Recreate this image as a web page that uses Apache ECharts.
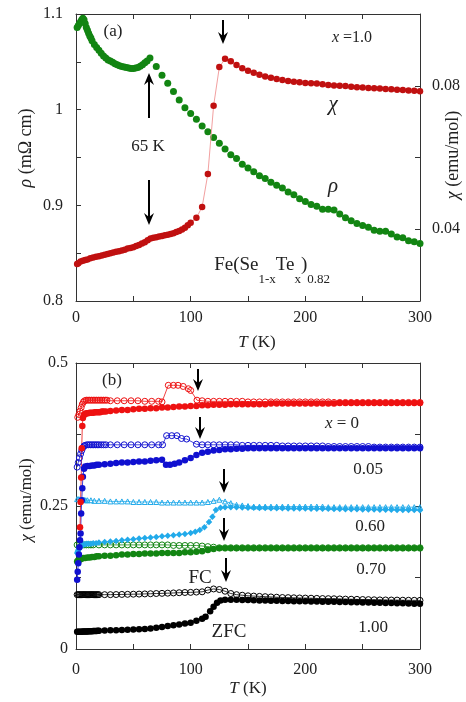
<!DOCTYPE html>
<html>
<head>
<meta charset="UTF-8">
<title>Fe(Se1-xTex)0.82</title>
<script src="https://cdn.jsdelivr.net/npm/echarts/dist/echarts.min.js"></script>
<style>
  html, body { margin: 0; padding: 0; width: 100%; height: 100%; background: #fff; }
  #chart { width: 466px; height: 702px; }
</style>
</head>
<body>
<div id="chart"></div>
<script>
  // ---- panel (a): x = 1.0, resistivity (left axis) and susceptibility (right axis) ----
  const rhoData = [
    [1,1.086],[2,1.088],[3,1.090],[4,1.092],[5,1.094],[6,1.0955],[7,1.094],[8,1.090],[9,1.086],[10,1.083],
    [11,1.080],[12,1.077],[13,1.075],[14,1.072],[16,1.068],[18,1.065],[20,1.062],[22,1.059],[24,1.056],[26,1.054],
    [28,1.052],[30,1.051],[32,1.0495],[34,1.048],[36,1.047],[38,1.046],[40,1.045],[42,1.0445],[44,1.044],[46,1.0435],
    [48,1.043],[50,1.043],[52,1.0435],[54,1.044],[56,1.0455],[58,1.047],[60,1.049],[62,1.051],[64.5,1.054],[70,1.045],
    [75,1.036],[80,1.0275],[85,1.019],[90,1.010],[95,1.002],[100,0.996],[105,0.990],[110,0.983],[115,0.977],[120,0.971],
    [125,0.965],[130,0.959],[135,0.953],[140,0.949],[145,0.943],[150,0.939],[155,0.935],[160,0.931],[165,0.928],[170,0.924],
    [175,0.921],[180,0.918],[185,0.914],[190,0.911],[195,0.907],[200,0.904],[205,0.901],[210,0.899],[215,0.896],[220,0.896],
    [225,0.895],[230,0.891],[235,0.887],[240,0.884],[245,0.881],[250,0.879],[255,0.877],[260,0.874],[265,0.873],[270,0.873],
    [275,0.870],[280,0.867],[285,0.866],[290,0.863],[295,0.862],[300,0.860]
  ];
  const chiTopData = [
    [1,0.0303],[2,0.0305],[4,0.0310],[6,0.0312],[8,0.0314],[10,0.0316],[12.5,0.0319],[15,0.0321],[17.5,0.0323],[20,0.0325],
    [22.5,0.0327],[25,0.0329],[27.5,0.0331],[30,0.0333],[32.5,0.0335],[35,0.0337],[37.5,0.0339],[40,0.0341],[42.5,0.0343],[45,0.0346],
    [47.5,0.0348],[50,0.0350],[52.5,0.0353],[55,0.0356],[57.5,0.0360],[60,0.0364],[62.5,0.0369],[65,0.0374],[67.5,0.0376],[70,0.0378],
    [72.5,0.0380],[75,0.0381],[77.5,0.0383],[80,0.0385],[82.5,0.0387],[85,0.0389],[87.5,0.0392],[90,0.0395],[92.5,0.0399],[95,0.0404],
    [97.5,0.0411],[100,0.0418],[105,0.0432],[110,0.0462],[115,0.0554],[120,0.0744],[125,0.0852],[130,0.0875],[135,0.0868],[140,0.0858],
    [145,0.0849],[150,0.0842],[155,0.0836],[160,0.0831],[165,0.0826],[170,0.0822],[175,0.0819],[180,0.0816],[185,0.0813],[190,0.0811],
    [195,0.0810],[200,0.0808],[205,0.0807],[210,0.0806],[215,0.0804],[220,0.0802],[225,0.0801],[230,0.0800],[235,0.0799],[240,0.0797],
    [245,0.0796],[250,0.0795],[255,0.0794],[260,0.0793],[265,0.0792],[270,0.0791],[275,0.0790],[280,0.0789],[285,0.0788],[290,0.0787],
    [295,0.0786],[300,0.0785]
  ];

  // ---- panel (b): chi(T), FC (open) and ZFC (filled) ----
  const fcX0 = [
    [1.5,0.405],[2.5,0.410],[3.5,0.416],[4.5,0.422],[5.5,0.428],[6.5,0.432],[7.5,0.434],[9,0.435],[10.5,0.435],[12,0.435],
    [13.5,0.435],[15,0.435],[16.5,0.435],[18,0.435],[19.5,0.435],[21,0.435],[22.5,0.435],[24,0.435],[25.5,0.435],[27,0.435],
    [30,0.434],[36,0.434],[42,0.434],[48,0.434],[54,0.434],[60,0.433],[66,0.433],[72,0.433],[75,0.432],[80.5,0.461],
    [85,0.461],[89,0.461],[93.5,0.459],[98,0.455],[100,0.452],[105.5,0.435],[110,0.434],[115,0.433],[120,0.433],[125,0.433],
    [130,0.433],[135,0.433],[140,0.433],[145,0.433],[150,0.432],[155,0.432],[160,0.432],[165,0.432],[170,0.432],[175,0.432],
    [180,0.432],[185,0.432],[190,0.432],[195,0.432],[200,0.432],[205,0.432],[210,0.432],[215,0.432],[220,0.432],[225,0.431],
    [230,0.431],[235,0.431],[240,0.431],[245,0.431],[250,0.431],[255,0.431],[260,0.431],[265,0.431],[270,0.431],[275,0.431],
    [280,0.431],[285,0.431],[290,0.431],[295,0.431],[300,0.431]
  ];
  const zfcX0 = [
    [3.5,0.213],[4,0.257],[4.5,0.300],[5,0.351],[5.5,0.390],[6,0.404],[7,0.409],[8,0.411],[9,0.412],[10.5,0.412],
    [12,0.413],[13.5,0.413],[15,0.413],[16.5,0.414],[18,0.414],[19.5,0.414],[21,0.414],[22.5,0.415],[24,0.415],[26,0.415],
    [30,0.416],[35,0.417],[40,0.418],[45,0.418],[50,0.419],[55,0.420],[60,0.420],[65,0.421],[70,0.421],[75,0.422],
    [80,0.422],[85,0.423],[90,0.424],[95,0.424],[100,0.425],[105,0.425],[110,0.426],[115,0.426],[120,0.427],[125,0.427],
    [130,0.427],[135,0.428],[140,0.428],[145,0.428],[150,0.428],[155,0.428],[160,0.428],[165,0.428],[170,0.429],[175,0.429],
    [180,0.429],[185,0.429],[190,0.429],[195,0.429],[200,0.429],[205,0.429],[210,0.429],[215,0.429],[220,0.429],[225,0.429],
    [230,0.430],[235,0.430],[240,0.430],[245,0.430],[250,0.430],[255,0.430],[260,0.430],[265,0.430],[270,0.430],[275,0.430],
    [280,0.430],[285,0.430],[290,0.430],[295,0.430],[300,0.430]
  ];
  const fcX005 = [
    [1,0.318],[2,0.326],[3,0.334],[4,0.341],[5,0.347],[6,0.352],[7,0.355],[8,0.356],[9.5,0.357],[11,0.357],
    [12.5,0.357],[14,0.357],[15.5,0.357],[17,0.357],[18.5,0.357],[20,0.357],[22,0.357],[24,0.357],[26,0.357],[30,0.357],
    [36,0.357],[42,0.357],[48,0.357],[54,0.357],[60,0.357],[66,0.357],[72,0.357],[75.5,0.357],[79,0.373],[83.5,0.373],
    [88,0.373],[92,0.368],[96.5,0.367],[105,0.358],[110,0.357],[115,0.357],[120,0.357],[125,0.357],[130,0.357],[135,0.357],
    [140,0.357],[145,0.356],[150,0.356],[155,0.356],[160,0.356],[165,0.356],[170,0.356],[175,0.356],[180,0.355],[185,0.355],
    [190,0.355],[195,0.355],[200,0.355],[205,0.355],[210,0.355],[215,0.355],[220,0.354],[225,0.354],[230,0.354],[235,0.354],
    [240,0.354],[245,0.354],[250,0.354],[255,0.354],[260,0.353],[265,0.353],[270,0.353],[275,0.353],[280,0.353],[285,0.353],
    [290,0.353],[295,0.353],[300,0.353]
  ];
  const zfcX005 = [
    [1,0.121],[1.5,0.135],[2,0.150],[2.5,0.165],[3,0.178],[3.5,0.190],[4,0.202],[4.5,0.237],[5,0.260],[5.5,0.281],
    [6,0.301],[7,0.315],[8,0.319],[10,0.320],[12,0.320],[14,0.321],[16,0.321],[18,0.322],[20,0.322],[25,0.323],
    [30,0.324],[35,0.325],[40,0.326],[45,0.326],[50,0.327],[55,0.328],[60,0.328],[65,0.329],[70,0.330],[75,0.331],
    [78.5,0.322],[82,0.322],[86,0.324],[90,0.326],[95,0.330],[100,0.334],[105,0.339],[110,0.343],[115,0.345],[120,0.347],
    [125,0.348],[130,0.349],[135,0.349],[140,0.350],[145,0.350],[150,0.351],[155,0.351],[160,0.351],[165,0.351],[170,0.351],
    [175,0.351],[180,0.351],[185,0.351],[190,0.351],[195,0.351],[200,0.351],[205,0.351],[210,0.351],[215,0.351],[220,0.351],
    [225,0.351],[230,0.351],[235,0.351],[240,0.351],[245,0.351],[250,0.351],[255,0.351],[260,0.351],[265,0.351],[270,0.351],
    [275,0.351],[280,0.351],[285,0.351],[290,0.351],[295,0.351],[300,0.351]
  ];
  const fcX060 = [
    [1,0.262],[2.5,0.262],[4,0.261],[5.5,0.261],[7,0.261],[8.5,0.260],[10,0.260],[13,0.260],[16,0.259],[20,0.259],
    [25,0.259],[30,0.258],[35,0.258],[40,0.258],[45,0.258],[50,0.257],[55,0.257],[60,0.257],[65,0.257],[70,0.257],
    [75,0.256],[80,0.256],[85,0.256],[90,0.256],[95,0.256],[100,0.256],[105,0.256],[110,0.256],[115,0.257],[120,0.259],
    [125,0.261],[130,0.258],[135,0.255],[140,0.252],[145,0.251],[150,0.250],[155,0.249],[160,0.249],[165,0.249],[170,0.249],
    [175,0.249],[180,0.249],[185,0.249],[190,0.249],[195,0.249],[200,0.249],[205,0.249],[210,0.249],[215,0.249],[220,0.248],
    [225,0.248],[230,0.248],[235,0.248],[240,0.248],[245,0.248],[250,0.248],[255,0.248],[260,0.248],[265,0.248],[270,0.248],
    [275,0.248],[280,0.248],[285,0.248],[290,0.248],[295,0.248],[300,0.248]
  ];
  const zfcX060 = [
    [1,0.168],[1.5,0.171],[2,0.173],[2.5,0.175],[3,0.177],[3.5,0.178],[4,0.179],[5,0.181],[6,0.182],[7,0.183],
    [8,0.183],[9.5,0.184],[11,0.184],[13,0.184],[15,0.185],[17.5,0.185],[20,0.186],[25,0.187],[30,0.188],[35,0.189],
    [40,0.190],[45,0.191],[50,0.192],[55,0.193],[60,0.194],[65,0.195],[70,0.196],[75,0.197],[80,0.198],[85,0.199],
    [90,0.200],[95,0.201],[100,0.203],[104,0.205],[108,0.208],[112,0.213],[116,0.222],[119,0.231],[122,0.243],[126,0.247],
    [130,0.248],[135,0.248],[140,0.248],[145,0.2475],[150,0.247],[155,0.247],[160,0.2465],[165,0.2465],[170,0.246],[175,0.246],
    [180,0.246],[185,0.2458],[190,0.2456],[195,0.2455],[200,0.2455],[205,0.2453],[210,0.245],[215,0.245],[220,0.245],[225,0.2448],
    [230,0.2446],[235,0.2445],[240,0.2444],[245,0.2442],[250,0.244],[255,0.244],[260,0.2438],[265,0.2436],[270,0.2435],[275,0.2433],
    [280,0.2432],[285,0.243],[290,0.243],[295,0.2428],[300,0.2425]
  ];
  const fcX070 = [
    [1,0.182],[3,0.182],[5,0.182],[7,0.182],[9,0.182],[11,0.182],[13,0.182],[15,0.182],[20,0.182],[25,0.182],
    [30,0.182],[35,0.182],[40,0.182],[45,0.182],[50,0.182],[55,0.182],[60,0.182],[65,0.182],[70,0.182],[75,0.182],
    [80,0.182],[85,0.181],[90,0.181],[95,0.181],[100,0.181],[105,0.181],[110,0.180],[115,0.179],[120,0.178],[125,0.177],
    [130,0.177],[135,0.177],[140,0.177],[145,0.177],[150,0.177],[155,0.177],[160,0.177],[165,0.177],[170,0.177],[175,0.177],
    [180,0.177],[185,0.177],[190,0.177],[195,0.177],[200,0.177],[205,0.177],[210,0.177],[215,0.177],[220,0.177],[225,0.177],
    [230,0.177],[235,0.177],[240,0.177],[245,0.177],[250,0.177],[255,0.177],[260,0.177],[265,0.177],[270,0.177],[275,0.177],
    [280,0.177],[285,0.177],[290,0.177],[295,0.177],[300,0.177]
  ];
  const zfcX070 = [
    [1,0.153],[2,0.155],[3,0.156],[4,0.157],[5,0.158],[6.5,0.159],[8,0.159],[10,0.160],[12,0.160],[14,0.161],
    [16,0.161],[18,0.162],[20,0.162],[25,0.163],[30,0.163],[35,0.164],[40,0.165],[45,0.165],[50,0.166],[55,0.166],
    [60,0.167],[65,0.167],[70,0.167],[75,0.168],[80,0.168],[85,0.168],[90,0.168],[95,0.169],[100,0.169],[105,0.170],
    [110,0.171],[115,0.173],[120,0.175],[125,0.176],[130,0.176],[135,0.176],[140,0.176],[145,0.176],[150,0.176],[155,0.176],
    [160,0.176],[165,0.176],[170,0.176],[175,0.176],[180,0.176],[185,0.176],[190,0.176],[195,0.176],[200,0.176],[205,0.176],
    [210,0.176],[215,0.176],[220,0.176],[225,0.176],[230,0.176],[235,0.176],[240,0.176],[245,0.176],[250,0.176],[255,0.176],
    [260,0.176],[265,0.176],[270,0.176],[275,0.176],[280,0.176],[285,0.176],[290,0.176],[295,0.176],[300,0.176]
  ];
  const fcX100 = [
    [1,0.095],[2,0.095],[3,0.095],[4,0.095],[5,0.095],[6,0.095],[7,0.095],[8,0.095],[9,0.095],[10,0.095],
    [11,0.095],[12,0.095],[13,0.095],[14,0.095],[15,0.095],[16,0.095],[17,0.095],[18,0.095],[19,0.095],[20,0.095],
    [25,0.095],[30,0.095],[35,0.0952],[40,0.0954],[45,0.0956],[50,0.0958],[55,0.096],[60,0.0963],[65,0.0966],[70,0.097],
    [75,0.0973],[80,0.0976],[85,0.098],[90,0.0984],[95,0.0988],[100,0.099],[105,0.0995],[110,0.100],[115,0.103],[120,0.105],
    [125,0.104],[130,0.101],[135,0.097],[140,0.095],[145,0.094],[150,0.093],[155,0.0925],[160,0.092],[165,0.0915],[170,0.091],
    [175,0.0905],[180,0.090],[185,0.0898],[190,0.0895],[195,0.0892],[200,0.089],[205,0.0888],[210,0.0885],[215,0.0882],[220,0.088],
    [225,0.0878],[230,0.0875],[235,0.0872],[240,0.087],[245,0.0868],[250,0.0865],[255,0.0863],[260,0.086],[265,0.0858],[270,0.0857],
    [275,0.0856],[280,0.0855],[285,0.0853],[290,0.0852],[295,0.0851],[300,0.085]
  ];
  const zfcX100 = [
    [1,0.030],[2,0.030],[3,0.030],[4,0.0302],[5,0.0303],[6,0.0304],[7,0.0305],[8,0.0306],[9,0.0307],[10,0.0308],
    [11,0.0309],[12,0.031],[13,0.0311],[14,0.0312],[15,0.0313],[16,0.0314],[17,0.0315],[18,0.0316],[19,0.0317],[20,0.032],
    [25,0.0323],[30,0.0326],[35,0.0329],[40,0.0332],[45,0.0336],[50,0.034],[55,0.0345],[60,0.035],[65,0.036],[70,0.037],
    [75,0.0385],[80,0.040],[85,0.0415],[90,0.043],[95,0.0445],[100,0.046],[105,0.0496],[110,0.053],[113,0.0565],[117,0.066],
    [120,0.074],[123,0.081],[126,0.085],[130,0.086],[135,0.086],[140,0.086],[145,0.0858],[150,0.0855],[155,0.0852],[160,0.085],
    [165,0.0848],[170,0.0845],[175,0.0843],[180,0.084],[185,0.0838],[190,0.0836],[195,0.0834],[200,0.0833],[205,0.0831],[210,0.083],
    [215,0.0828],[220,0.0826],[225,0.0824],[230,0.0822],[235,0.082],[240,0.0818],[245,0.0816],[250,0.0814],[255,0.0812],[260,0.081],
    [265,0.0808],[270,0.0806],[275,0.0804],[280,0.0802],[285,0.080],[290,0.0796],[295,0.0793],[300,0.079]
  ];

  const FONT = 'Liberation Serif';
  const INK = '#222';

  function xAx(grid, pos, labelMargin) {
    return {
      type: 'value', gridIndex: grid, position: pos, min: 0, max: 300, interval: 50,
      axisLine: { show: true, onZero: false, lineStyle: { color: '#333', width: 1 } },
      axisTick: { inside: true, length: 5, lineStyle: { color: '#333' } },
      splitLine: { show: false },
      axisLabel: labelMargin == null ? { show: false } : {
        margin: labelMargin, fontFamily: FONT, fontSize: 16, color: INK,
        formatter: v => (v % 100 === 0 ? String(v) : '')
      }
    };
  }

  function yAx(grid, pos, min, max, step, fmt, margin) {
    return {
      type: 'value', gridIndex: grid, position: pos, min: min, max: max, interval: step,
      axisLine: { show: true, onZero: false, lineStyle: { color: '#333', width: 1 } },
      axisTick: { inside: true, length: 5, lineStyle: { color: '#333' } },
      splitLine: { show: false },
      axisLabel: fmt ? { margin: margin, fontFamily: FONT, fontSize: 16, color: INK, formatter: fmt } : { show: false }
    };
  }

  // one curve of panel (b): thin joining line + markers
  function curve(data, color, hollow, symbol, size) {
    return {
      type: 'line', xAxisIndex: 2, yAxisIndex: 2, data: data,
      symbol: symbol || 'circle', symbolSize: size || 6, showAllSymbol: true,
      lineStyle: { color: color, width: 0.8 },
      itemStyle: hollow ? { color: 'rgba(255,255,255,0)', borderColor: color, borderWidth: 1 } : { color: color },
      emphasis: { disabled: true }
    };
  }

  function txt(x, y, text, size, extra) {
    return Object.assign({
      type: 'text', x: x, y: y,
      style: { text: text, fontFamily: FONT, fontSize: size, fill: INK, align: 'center', verticalAlign: 'middle' }
    }, extra || {});
  }

  // text with an italic {i|...} part at the same size
  function itTxt(x, y, text, size, extra) {
    const t = txt(x, y, text, size, extra);
    t.style.rich = {
      i: { fontFamily: FONT, fontSize: size, fontStyle: 'italic', color: INK },
      r: { fontFamily: FONT, fontSize: size, color: INK }
    };
    return t;
  }

  function arrow(x, yTail, yTip) {
    const d = yTip > yTail ? 1 : -1;
    return {
      type: 'group', children: [
        { type: 'line', shape: { x1: x, y1: yTail, x2: x, y2: yTip - d * 6 }, style: { stroke: '#000', lineWidth: 2 } },
        { type: 'polygon', shape: { points: [[x, yTip], [x - 5, yTip - d * 12], [x, yTip - d * 8], [x + 5, yTip - d * 12]] },
          style: { fill: '#000' } }
      ]
    };
  }

  const formula = txt(272, 271, '{h| }{n|Fe(Se}{s|1-x}{n|Te}{s|x}{n|)}{s|0.82}', 19);
  formula.style.rich = {
    n: { fontFamily: FONT, fontSize: 19, lineHeight: 20, verticalAlign: 'top', color: INK },
    s: { fontFamily: FONT, fontSize: 13, lineHeight: 14, verticalAlign: 'bottom', color: INK },
    h: { fontSize: 1, lineHeight: 30 }
  };
  const rot = { rotation: Math.PI / 2 };

  const chart = echarts.init(document.getElementById('chart'));
  chart.setOption({
    backgroundColor: '#fff',
    animation: false,
    grid: [
      { left: 76, top: 14, width: 344, height: 287 },
      { left: 76, top: 363, width: 344, height: 286 }
    ],
    xAxis: [xAx(0, 'bottom', 9), xAx(0, 'top'), xAx(1, 'bottom', 13), xAx(1, 'top')],
    yAxis: [
      yAx(0, 'left', 0.8, 1.1, 0.05, v => { const k = Math.round(v * 20); return k % 2 === 0 ? String(k / 20) : ''; }, 13),
      yAx(0, 'right', 0.02, 0.1, 0.02, v => { const k = Math.round(v * 100); return k % 4 === 0 ? String(k / 100) : ''; }, 12),
      yAx(1, 'left', 0, 0.5, 0.125, v => { const k = Math.round(v * 8); return k % 2 === 0 ? String(k / 8) : ''; }, 8),
      yAx(1, 'right', 0, 0.5, 0.125)
    ],
    series: [
      { type: 'scatter', xAxisIndex: 0, yAxisIndex: 0, data: rhoData, symbolSize: 7,
        itemStyle: { color: '#128512', opacity: 1 }, emphasis: { disabled: true } },
      { type: 'line', xAxisIndex: 0, yAxisIndex: 1, data: chiTopData, symbol: 'circle', symbolSize: 6.5, showAllSymbol: true,
        lineStyle: { color: '#f2a0a0', width: 1 }, itemStyle: { color: '#c01010' }, emphasis: { disabled: true } },

      curve(fcX100, '#000', true),
      curve(zfcX100, '#000', false, 'circle', 6.5),
      curve(fcX070, '#128512', true),
      curve(zfcX070, '#128512', false, 'circle', 6.5),
      curve(fcX060, '#22aaea', true, 'triangle', 5),
      curve(zfcX060, '#22aaea', false, 'diamond', 6.5),
      curve(fcX005, '#1010d0', true),
      curve(zfcX005, '#1010d0', false, 'circle', 6.5),
      curve(fcX0, '#ee1111', true),
      curve(zfcX0, '#ee1111', false, 'circle', 6.5)
    ],
    graphic: [
      // panel (a)
      txt(113, 32, '(a)', 17),
      itTxt(352, 38, '{i|x}{r| =1.0}', 16),
      itTxt(333, 104, '{i|χ}', 21),
      itTxt(333, 186, '{i|ρ}', 21),
      txt(148, 147, '65 K', 17),
      formula,
      arrow(149, 118, 73),
      arrow(149, 180, 225),
      arrow(223, 20, 44),
      itTxt(257, 343, '{i|T}{r| (K)}', 17),
      itTxt(26, 148, '{i|ρ}{r| (mΩ cm)}', 18, rot),
      itTxt(453, 155, '{i|χ}{r| (emu/mol)}', 18, rot),
      // panel (b)
      txt(112, 381, '(b)', 17),
      itTxt(342, 424, '{i|x}{r| = 0}', 17),
      txt(368, 470, '0.05', 17),
      txt(370, 527, '0.60', 17),
      txt(371, 570, '0.70', 17),
      txt(373, 628, '1.00', 17),
      txt(200, 578, 'FC', 19),
      txt(229, 632, 'ZFC', 19),
      arrow(198, 369, 391),
      arrow(200, 417, 439),
      arrow(224, 469, 493),
      arrow(224, 518, 541),
      arrow(226, 558, 582),
      itTxt(248, 689, '{i|T}{r| (K)}', 17),
      itTxt(27, 500, '{i|χ}{r| (emu/mol)}', 17, rot)
    ]
  });
</script>
</body>
</html>
